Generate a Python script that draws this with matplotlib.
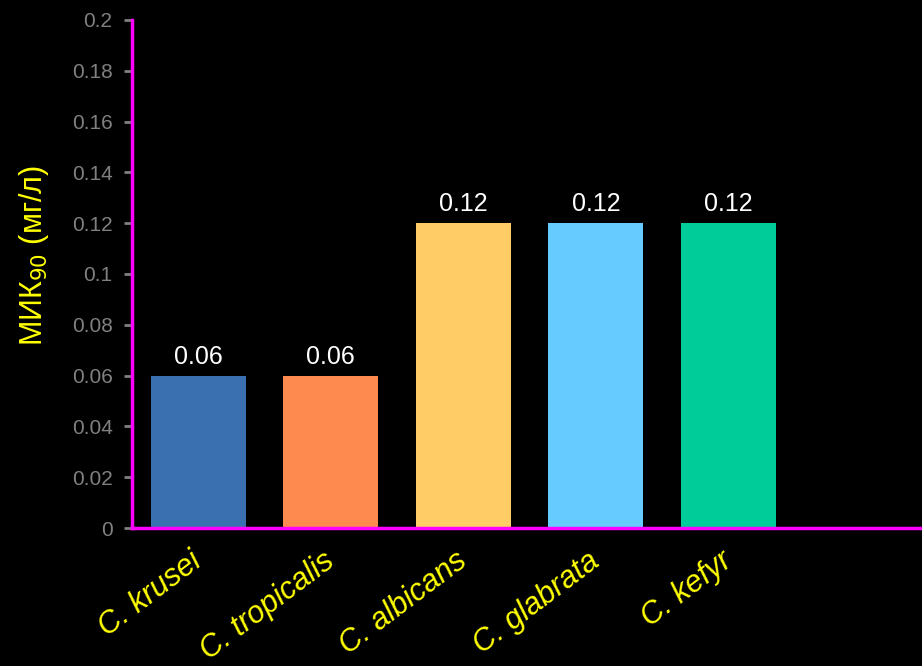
import matplotlib
matplotlib.use("Agg")
import matplotlib.pyplot as plt
import matplotlib.transforms as mtransforms

plt.rcParams['font.family'] = ['Liberation Sans', 'DejaVu Sans']

species = ["C. krusei", "C. tropicalis", "C. albicans", "C. glabrata", "C. kefyr"]
mic90 = [0.06, 0.06, 0.12, 0.12, 0.12]
colors = ["#3A70B0", "#FF8A50", "#FFCC66", "#66CCFF", "#00CC99"]
yticks = [0, 0.02, 0.04, 0.06, 0.08, 0.1, 0.12, 0.14, 0.16, 0.18, 0.2]
ytick_labels = ["0", "0.02", "0.04", "0.06", "0.08", "0.1", "0.12", "0.14", "0.16", "0.18", "0.2"]

fig = plt.figure(figsize=(9.22, 6.66), dpi=100, facecolor="black")
ax = fig.add_axes([0.1432, 0.2072, 0.8568, 0.7628], facecolor="black")

x = list(range(len(species)))
ax.bar(x, mic90, width=0.717, color=colors, zorder=2)

# value labels above bars
for xi, v in zip(x, mic90):
    ax.annotate(f"{v:g}", (xi, v), xytext=(0, 5), textcoords="offset points",
                ha="center", va="bottom", color="white", fontsize=18)

ax.set_xlim(-0.5, 5.46)
ax.set_ylim(0, 0.2)
ax.set_yticks(yticks)
ax.set_yticklabels(ytick_labels)
ax.tick_params(axis="y", colors="#808080", labelcolor="#808080", labelsize=15,
               direction="out", length=6, width=2, pad=8)

ax.set_xticks(x)
ax.set_xticklabels(species, rotation=37, ha="right", rotation_mode="anchor",
                   fontsize=22, style="italic", color="yellow")
ax.tick_params(axis="x", length=0, pad=13)
shift = mtransforms.ScaledTranslation(-0.09, 0, fig.dpi_scale_trans)
for lbl in ax.get_xticklabels():
    lbl.set_transform(lbl.get_transform() + shift)

ax.set_ylabel("МИК$_{90}$ (мг/л)", color="yellow", fontsize=22)
ax.yaxis.set_label_coords(-0.103, 0.537)

for side in ["top", "right"]:
    ax.spines[side].set_visible(False)
for side in ["left", "bottom"]:
    ax.spines[side].set_color("#FF00FF")
    ax.spines[side].set_linewidth(2.5)
    ax.spines[side].set_zorder(3)

fig.savefig("out.png", dpi=100, facecolor="black")
